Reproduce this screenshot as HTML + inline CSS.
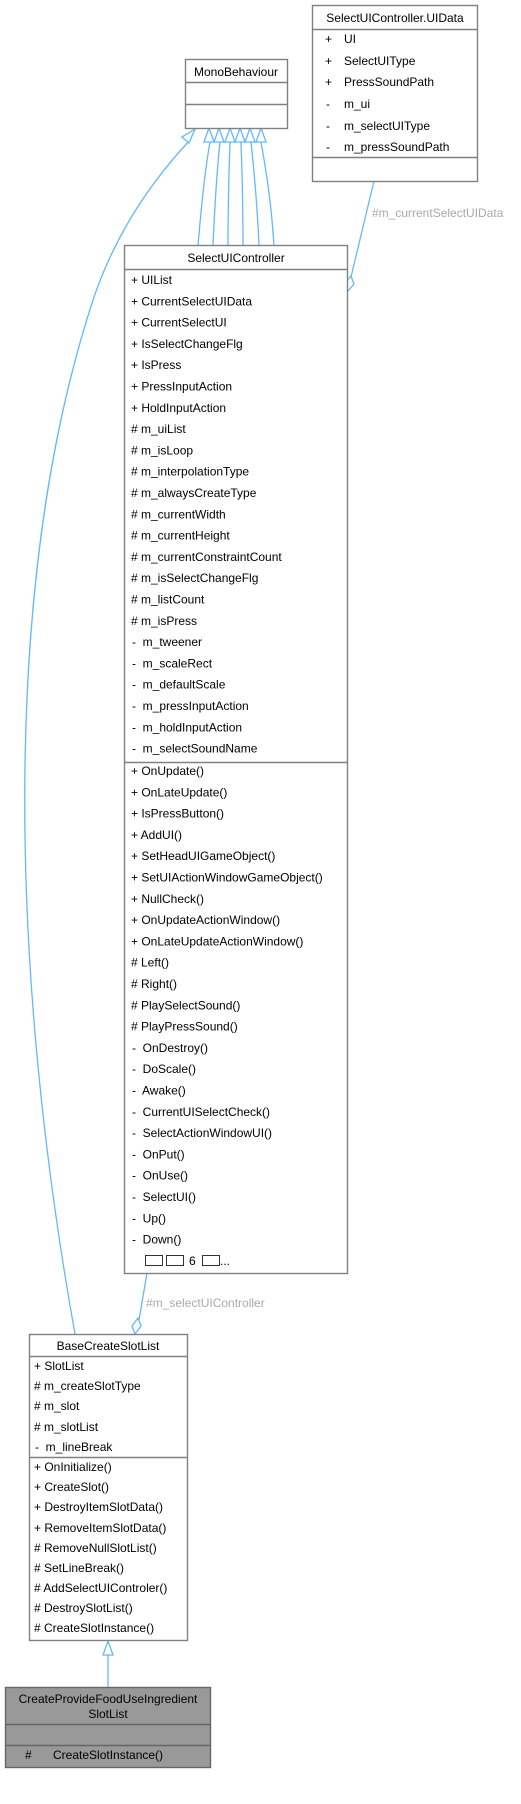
<!DOCTYPE html>
<html><head><meta charset="utf-8"><style>
html,body{margin:0;padding:0;background:#fff}
svg{display:block}
text{font-family:"Liberation Sans","Noto Sans CJK JP",sans-serif;font-size:12px;fill:#000}
.g{fill:#aaa}
</style></head><body>
<svg width="521" height="1804" viewBox="0 0 521 1804" xmlns="http://www.w3.org/2000/svg">
<g fill="none" stroke="#63b8ff" stroke-width="1.3">
<path d="M75,1334 C15,1000 -5,600 93,300 C118,225 160,172 191,139"/>
<path d="M198,245 C202,200 205,170 210,142"/>
<path d="M213,245 C215,200 217,170 220,142"/>
<path d="M228,245 C228,200 229,170 230,142"/>
<path d="M243,245 C243,200 242,170 241,142"/>
<path d="M259,245 C257,200 254,170 251,142"/>
<path d="M274,245 C271,200 266,170 261,142"/>
<path d="M374,181 L351,277"/>
<path d="M147,1273 L139,1320"/>
<path d="M108,1687 L108,1655"/>
</g>
<g fill="#fff" stroke="#63b8ff" stroke-width="1.3">
<polygon points="195,129 182,137 189,143"/>
<polygon points="209,128 204,142 214,142"/>
<polygon points="219,128 214,142 224,142"/>
<polygon points="230,128 225,142 235,142"/>
<polygon points="240,128 235,142 245,142"/>
<polygon points="250,128 245,142 255,142"/>
<polygon points="261,128 256,142 266,142"/>
<polygon points="348,291 345,283 351,276 354,284"/>
<polygon points="135,1334 132,1326 138,1318 141,1326"/>
<polygon points="108,1641 103,1655 113,1655"/>
</g>
<g stroke="#808080" stroke-width="1.4" fill="#fff">
<rect x="312.5" y="5.5" width="165" height="176"/>
<line x1="312" y1="29.5" x2="478" y2="29.5"/>
<line x1="312" y1="157.5" x2="478" y2="157.5"/>
<rect x="185.5" y="59.5" width="102" height="69"/>
<line x1="185" y1="82.5" x2="288" y2="82.5"/>
<line x1="185" y1="104.5" x2="288" y2="104.5"/>
<rect x="124.5" y="245.5" width="223" height="1028"/>
<line x1="124" y1="269.5" x2="348" y2="269.5"/>
<line x1="124" y1="762.5" x2="348" y2="762.5"/>
<rect x="29.5" y="1334.5" width="158" height="306"/>
<line x1="29" y1="1356.5" x2="188" y2="1356.5"/>
<line x1="29" y1="1457.5" x2="188" y2="1457.5"/>
<rect x="5.5" y="1687.5" width="205" height="80" fill="#999" stroke="#666"/>
<line x1="5" y1="1724.5" x2="211" y2="1724.5" stroke="#666"/>
<line x1="5" y1="1745.5" x2="211" y2="1745.5" stroke="#666"/>
</g>
<text x="395" y="22" text-anchor="middle">SelectUIController.UIData</text>
<text x="325" y="43">+</text><text x="344" y="43">UI</text>
<text x="325" y="65">+</text><text x="344" y="65">SelectUIType</text>
<text x="325" y="86">+</text><text x="344" y="86">PressSoundPath</text>
<text x="326" y="108">-</text><text x="344" y="108">m_ui</text>
<text x="326" y="130">-</text><text x="344" y="130">m_selectUIType</text>
<text x="326" y="151">-</text><text x="344" y="151">m_pressSoundPath</text>
<text x="236" y="76" text-anchor="middle">MonoBehaviour</text>
<text x="372" y="217" class="g">#m_currentSelectUIData</text>
<text x="236" y="262" text-anchor="middle">SelectUIController</text>
<g>
<text x="131" y="284">+ UIList</text>
<text x="131" y="305.3">+ CurrentSelectUIData</text>
<text x="131" y="326.6">+ CurrentSelectUI</text>
<text x="131" y="347.9">+ IsSelectChangeFlg</text>
<text x="131" y="369.2">+ IsPress</text>
<text x="131" y="390.5">+ PressInputAction</text>
<text x="131" y="411.8">+ HoldInputAction</text>
<text x="131" y="433.1"># m_uiList</text>
<text x="131" y="454.4"># m_isLoop</text>
<text x="131" y="475.7"># m_interpolationType</text>
<text x="131" y="497"># m_alwaysCreateType</text>
<text x="131" y="518.3"># m_currentWidth</text>
<text x="131" y="539.6"># m_currentHeight</text>
<text x="131" y="560.9"># m_currentConstraintCount</text>
<text x="131" y="582.2"># m_isSelectChangeFlg</text>
<text x="131" y="603.5"># m_listCount</text>
<text x="131" y="624.8"># m_isPress</text>
<text x="132" y="646.1">-&#160; m_tweener</text>
<text x="132" y="667.4">-&#160; m_scaleRect</text>
<text x="132" y="688.7">-&#160; m_defaultScale</text>
<text x="132" y="710">-&#160; m_pressInputAction</text>
<text x="132" y="731.3">-&#160; m_holdInputAction</text>
<text x="132" y="752.6">-&#160; m_selectSoundName</text>
<text x="131" y="775">+ OnUpdate()</text>
<text x="131" y="796.3">+ OnLateUpdate()</text>
<text x="131" y="817.6">+ IsPressButton()</text>
<text x="131" y="838.9">+ AddUI()</text>
<text x="131" y="860.2">+ SetHeadUIGameObject()</text>
<text x="131" y="881.5">+ SetUIActionWindowGameObject()</text>
<text x="131" y="902.8">+ NullCheck()</text>
<text x="131" y="924.1">+ OnUpdateActionWindow()</text>
<text x="131" y="945.4">+ OnLateUpdateActionWindow()</text>
<text x="131" y="966.7"># Left()</text>
<text x="131" y="988"># Right()</text>
<text x="131" y="1009.3"># PlaySelectSound()</text>
<text x="131" y="1030.6"># PlayPressSound()</text>
<text x="132" y="1051.9">-&#160; OnDestroy()</text>
<text x="132" y="1073.2">-&#160; DoScale()</text>
<text x="132" y="1094.5">-&#160; Awake()</text>
<text x="132" y="1115.8">-&#160; CurrentUISelectCheck()</text>
<text x="132" y="1137.1">-&#160; SelectActionWindowUI()</text>
<text x="132" y="1158.4">-&#160; OnPut()</text>
<text x="132" y="1179.7">-&#160; OnUse()</text>
<text x="132" y="1201">-&#160; SelectUI()</text>
<text x="132" y="1222.3">-&#160; Up()</text>
<text x="132" y="1243.6">-&#160; Down()</text>
</g>
<g fill="#fff" stroke="#333" stroke-width="1">
<rect x="145.5" y="1255.5" width="17" height="10"/>
<rect x="166.5" y="1255.5" width="17" height="10"/>
<rect x="202.5" y="1255.5" width="17" height="10"/>
</g>
<text x="189" y="1265">6</text><text x="220" y="1265">...</text>
<text x="146" y="1307" class="g">#m_selectUIController</text>
<text x="108" y="1350" text-anchor="middle">BaseCreateSlotList</text>
<text x="34" y="1370">+ SlotList</text>
<text x="34" y="1390"># m_createSlotType</text>
<text x="34" y="1410"># m_slot</text>
<text x="34" y="1431"># m_slotList</text>
<text x="35" y="1451">-&#160; m_lineBreak</text>
<text x="34" y="1471">+ OnInitialize()</text>
<text x="34" y="1491">+ CreateSlot()</text>
<text x="34" y="1511">+ DestroyItemSlotData()</text>
<text x="34" y="1532">+ RemoveItemSlotData()</text>
<text x="34" y="1552"># RemoveNullSlotList()</text>
<text x="34" y="1572"># SetLineBreak()</text>
<text x="34" y="1592"># AddSelectUIControler()</text>
<text x="34" y="1612"># DestroySlotList()</text>
<text x="34" y="1632"># CreateSlotInstance()</text>
<text x="108" y="1703" text-anchor="middle">CreateProvideFoodUseIngredient</text>
<text x="108" y="1718" text-anchor="middle">SlotList</text>
<text x="25" y="1759">#</text><text x="53" y="1759">CreateSlotInstance()</text>
</svg>
</body></html>
